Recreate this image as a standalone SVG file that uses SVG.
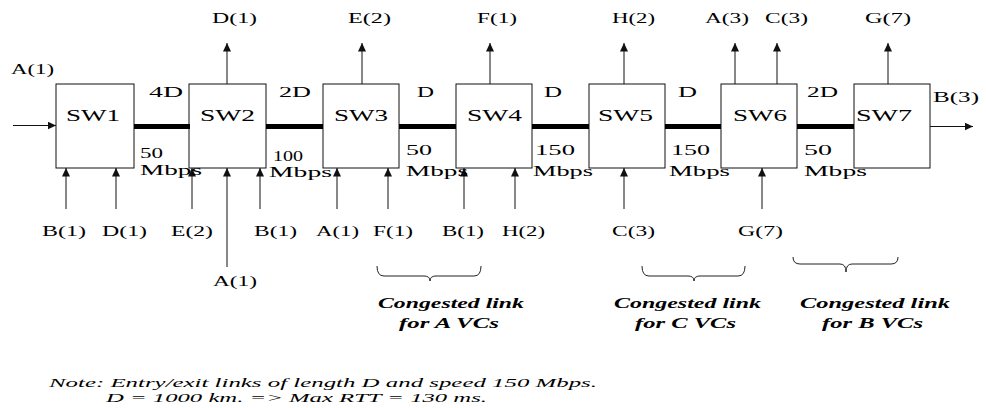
<svg xmlns="http://www.w3.org/2000/svg" width="986" height="408" viewBox="0 0 986 408">
<style>
.box{fill:#fff;stroke:#111;stroke-width:1}
.sw{font-family:"Liberation Serif","Times New Roman",serif;font-size:16px;fill:#000}
.lb{font-family:"Liberation Serif","Times New Roman",serif;font-size:15px;fill:#000}
.cg{font-family:"Liberation Serif","Times New Roman",serif;font-size:15px;font-weight:bold;font-style:italic;fill:#000}
.nt{font-family:"Liberation Serif","Times New Roman",serif;font-size:13px;font-style:italic;fill:#000}
.link{stroke:#000;stroke-width:5;fill:none}
.arr{stroke:#111;stroke-width:1;fill:none;marker-end:url(#ah)}
.brace{stroke:#222;stroke-width:1;fill:none}
</style>
<defs>
<marker id="ah" markerUnits="userSpaceOnUse" markerWidth="9" markerHeight="8" refX="8.5" refY="4" orient="auto">
<path d="M0,0 L8.5,4 L0,8 z" fill="#111"/>
</marker>
</defs>

<g id="sw1"><rect class="box" x="56" y="84" width="78" height="84"/><text class="sw" x="66" y="121" textLength="54" lengthAdjust="spacingAndGlyphs">SW1</text></g>
<g id="sw2"><rect class="box" x="189" y="84" width="77" height="84"/><text class="sw" x="200" y="121" textLength="55" lengthAdjust="spacingAndGlyphs">SW2</text></g>
<g id="sw3"><rect class="box" x="323" y="84" width="76" height="84"/><text class="sw" x="334" y="121" textLength="54" lengthAdjust="spacingAndGlyphs">SW3</text></g>
<g id="sw4"><rect class="box" x="456" y="84" width="76" height="84"/><text class="sw" x="467" y="121" textLength="55" lengthAdjust="spacingAndGlyphs">SW4</text></g>
<g id="sw5"><rect class="box" x="589" y="84" width="76" height="84"/><text class="sw" x="598" y="121" textLength="55" lengthAdjust="spacingAndGlyphs">SW5</text></g>
<g id="sw6"><rect class="box" x="721" y="84" width="76" height="84"/><text class="sw" x="733" y="121" textLength="54" lengthAdjust="spacingAndGlyphs">SW6</text></g>
<g id="sw7"><rect class="box" x="854" y="84" width="76" height="84"/><text class="sw" x="856" y="121" textLength="56" lengthAdjust="spacingAndGlyphs">SW7</text></g>

<g id="connectors">
<line class="link" x1="134" y1="126.5" x2="190" y2="126.5"/>
<line class="link" x1="266" y1="126.5" x2="323" y2="126.5"/>
<line class="link" x1="399" y1="126.5" x2="456" y2="126.5"/>
<line class="link" x1="532" y1="126.5" x2="589" y2="126.5"/>
<line class="link" x1="665" y1="126.5" x2="721" y2="126.5"/>
<line class="link" x1="797" y1="126.5" x2="854" y2="126.5"/>
<line class="arr" x1="13" y1="125.5" x2="56" y2="125.5"/>
<line class="arr" x1="930" y1="126.5" x2="973" y2="126.5"/>
<line class="arr" x1="227" y1="84" x2="227" y2="43"/>
<line class="arr" x1="362" y1="84" x2="362" y2="43"/>
<line class="arr" x1="490" y1="84" x2="490" y2="43"/>
<line class="arr" x1="624" y1="84" x2="624" y2="43"/>
<line class="arr" x1="735" y1="84" x2="735" y2="43"/>
<line class="arr" x1="777" y1="84" x2="777" y2="43"/>
<line class="arr" x1="888" y1="84" x2="888" y2="43"/>
<line class="arr" x1="66" y1="209" x2="66" y2="168"/>
<line class="arr" x1="116" y1="209" x2="116" y2="168"/>
<line class="arr" x1="192" y1="209" x2="192" y2="168"/>
<line class="arr" x1="227" y1="267" x2="227" y2="168"/>
<line class="arr" x1="260" y1="209" x2="260" y2="168"/>
<line class="arr" x1="337" y1="209" x2="337" y2="168"/>
<line class="arr" x1="388" y1="209" x2="388" y2="168"/>
<line class="arr" x1="464" y1="209" x2="464" y2="168"/>
<line class="arr" x1="515" y1="209" x2="515" y2="168"/>
<line class="arr" x1="624" y1="209" x2="624" y2="168"/>
<line class="arr" x1="762" y1="209" x2="762" y2="168"/>
</g>

<g id="link-labels">
<text class="lb" x="149" y="97" textLength="34" lengthAdjust="spacingAndGlyphs">4D</text>
<text class="lb" x="279" y="97" textLength="32" lengthAdjust="spacingAndGlyphs">2D</text>
<text class="lb" x="417" y="97" textLength="17" lengthAdjust="spacingAndGlyphs">D</text>
<text class="lb" x="544" y="97" textLength="18" lengthAdjust="spacingAndGlyphs">D</text>
<text class="lb" x="678" y="97" textLength="19" lengthAdjust="spacingAndGlyphs">D</text>
<text class="lb" x="807" y="97" textLength="31" lengthAdjust="spacingAndGlyphs">2D</text>
<text class="lb" x="140" y="158" textLength="23" lengthAdjust="spacingAndGlyphs">50</text>
<text class="lb" x="140" y="175" textLength="62" lengthAdjust="spacingAndGlyphs">Mbps</text>
<text class="lb" x="273" y="161" textLength="30" lengthAdjust="spacingAndGlyphs">100</text>
<text class="lb" x="269" y="177" textLength="63" lengthAdjust="spacingAndGlyphs">Mbps</text>
<text class="lb" x="406" y="155" textLength="26" lengthAdjust="spacingAndGlyphs">50</text>
<text class="lb" x="406" y="176" textLength="62" lengthAdjust="spacingAndGlyphs">Mbps</text>
<text class="lb" x="535" y="155" textLength="40" lengthAdjust="spacingAndGlyphs">150</text>
<text class="lb" x="533" y="176" textLength="60" lengthAdjust="spacingAndGlyphs">Mbps</text>
<text class="lb" x="671" y="155" textLength="39" lengthAdjust="spacingAndGlyphs">150</text>
<text class="lb" x="669" y="176" textLength="61" lengthAdjust="spacingAndGlyphs">Mbps</text>
<text class="lb" x="804" y="155" textLength="28" lengthAdjust="spacingAndGlyphs">50</text>
<text class="lb" x="804" y="176" textLength="63" lengthAdjust="spacingAndGlyphs">Mbps</text>
</g>

<g id="flow-labels">
<text class="lb" x="11" y="74" textLength="43" lengthAdjust="spacingAndGlyphs">A(1)</text>
<text class="lb" x="933" y="102" textLength="46" lengthAdjust="spacingAndGlyphs">B(3)</text>
<text class="lb" x="212" y="23" textLength="45" lengthAdjust="spacingAndGlyphs">D(1)</text>
<text class="lb" x="348" y="23" textLength="43" lengthAdjust="spacingAndGlyphs">E(2)</text>
<text class="lb" x="477" y="23" textLength="40" lengthAdjust="spacingAndGlyphs">F(1)</text>
<text class="lb" x="612" y="23" textLength="43" lengthAdjust="spacingAndGlyphs">H(2)</text>
<text class="lb" x="705" y="23" textLength="44" lengthAdjust="spacingAndGlyphs">A(3)</text>
<text class="lb" x="765" y="23" textLength="43" lengthAdjust="spacingAndGlyphs">C(3)</text>
<text class="lb" x="865" y="23" textLength="46" lengthAdjust="spacingAndGlyphs">G(7)</text>
<text class="lb" x="42" y="236" textLength="44" lengthAdjust="spacingAndGlyphs">B(1)</text>
<text class="lb" x="102" y="236" textLength="45" lengthAdjust="spacingAndGlyphs">D(1)</text>
<text class="lb" x="171" y="236" textLength="42" lengthAdjust="spacingAndGlyphs">E(2)</text>
<text class="lb" x="254" y="236" textLength="43" lengthAdjust="spacingAndGlyphs">B(1)</text>
<text class="lb" x="316" y="236" textLength="43" lengthAdjust="spacingAndGlyphs">A(1)</text>
<text class="lb" x="373" y="236" textLength="40" lengthAdjust="spacingAndGlyphs">F(1)</text>
<text class="lb" x="442" y="236" textLength="42" lengthAdjust="spacingAndGlyphs">B(1)</text>
<text class="lb" x="502" y="236" textLength="43" lengthAdjust="spacingAndGlyphs">H(2)</text>
<text class="lb" x="612" y="236" textLength="43" lengthAdjust="spacingAndGlyphs">C(3)</text>
<text class="lb" x="738" y="236" textLength="45" lengthAdjust="spacingAndGlyphs">G(7)</text>
<text class="lb" x="213" y="286" textLength="44" lengthAdjust="spacingAndGlyphs">A(1)</text>
</g>

<g id="congestion-notes">
<path class="brace" d="M377,266 Q377,276 384,276 L424,276 Q430,276 430,281 Q430,276 436,276 L474,276 Q481,276 481,266"/>
<path class="brace" d="M642,266 Q642,276 649,276 L688,276 Q694,276 694,281 Q694,276 700,276 L738,276 Q745,276 745,266"/>
<path class="brace" d="M793,257 Q793,264 800,264 L840,264 Q846,264 846,272 Q846,264 852,264 L891,264 Q898,264 898,257"/>
<text class="cg" x="378" y="308" textLength="146" lengthAdjust="spacingAndGlyphs">Congested link</text>
<text class="cg" x="399" y="328" textLength="100" lengthAdjust="spacingAndGlyphs">for A VCs</text>
<text class="cg" x="614" y="308" textLength="147" lengthAdjust="spacingAndGlyphs">Congested link</text>
<text class="cg" x="635" y="328" textLength="101" lengthAdjust="spacingAndGlyphs">for C VCs</text>
<text class="cg" x="800" y="308" textLength="150" lengthAdjust="spacingAndGlyphs">Congested link</text>
<text class="cg" x="822" y="328" textLength="101" lengthAdjust="spacingAndGlyphs">for B VCs</text>
</g>

<g id="note">
<text class="nt" x="49" y="387" textLength="548" lengthAdjust="spacingAndGlyphs">Note: Entry/exit links of length D and speed 150 Mbps.</text>
<text class="nt" x="106" y="402" textLength="381" lengthAdjust="spacingAndGlyphs">D = 1000 km. =&gt; Max RTT = 130 ms.</text>
</g>
</svg>
